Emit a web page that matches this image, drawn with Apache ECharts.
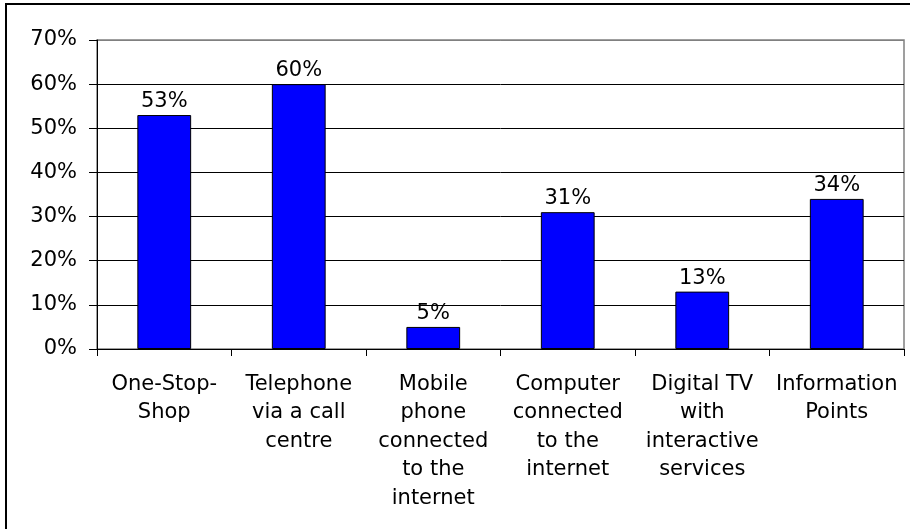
<!DOCTYPE html>
<html>
<head>
<meta charset="utf-8">
<script src="https://cdn.jsdelivr.net/npm/echarts@6/dist/echarts.min.js"></script>
<style>
  html, body { margin: 0; padding: 0; background: #fff; }
  #chart { width: 910px; height: 529px; }
</style>
</head>
<body>
<div id="chart"></div>
<script>
// Access channels and the share of respondents choosing each one
const categories = [
  'One-Stop-\nShop',
  'Telephone\nvia a call\ncentre',
  'Mobile\nphone\nconnected\nto the\ninternet',
  'Computer\nconnected\nto the\ninternet',
  'Digital TV\nwith\ninteractive\nservices',
  'Information\nPoints'
];
const shares = [53, 60, 5, 31, 13, 34];
const yTicks = { min: 0, max: 70, step: 10 };

const FONT = 'DejaVu Sans';
const FS = 21;

const chart = echarts.init(document.getElementById('chart'), null, { renderer: 'canvas' });

// gridlines are black, the top one coincides with the grey plot-area frame
const nLines = (yTicks.max - yTicks.min) / yTicks.step + 1;
const splitColors = [];
for (let i = 0; i < nLines; i++) splitColors.push(i === nLines - 1 ? '#808080' : '#000000');

chart.setOption({
  animation: false,
  backgroundColor: '#ffffff',
  textStyle: { fontFamily: FONT, color: '#000' },
  graphic: [{
    type: 'rect',
    shape: { x: 6, y: 4, width: 1000, height: 1000 },
    style: { fill: 'none', stroke: '#000', lineWidth: 2 },
    silent: true,
    z: 100
  }],
  grid: {
    left: 97, right: 6, top: 40, bottom: 180,
    show: true, borderColor: '#808080', borderWidth: 1.5, backgroundColor: '#fff'
  },
  xAxis: {
    type: 'category',
    data: categories,
    axisLine: { lineStyle: { color: '#000', width: 1 } },
    axisTick: { show: true, length: 7, lineStyle: { color: '#000' } },
    axisLabel: {
      interval: 0, margin: 21, color: '#000',
      fontFamily: FONT, fontSize: FS, lineHeight: 28.5, align: 'center'
    }
  },
  yAxis: {
    type: 'value',
    min: yTicks.min, max: yTicks.max, interval: yTicks.step,
    axisLine: { show: true, lineStyle: { color: '#000', width: 1 } },
    axisTick: { show: true, length: 8, lineStyle: { color: '#000' } },
    axisLabel: { formatter: '{value}%', margin: 20, color: '#000', fontFamily: FONT, fontSize: FS },
    splitLine: { show: true, lineStyle: { color: splitColors, width: 1 } }
  },
  series: [{
    type: 'bar',
    data: shares,
    barCategoryGap: '60%',
    itemStyle: { color: '#0000ff', borderColor: '#000', borderWidth: 1 },
    label: {
      show: true, position: 'top', distance: 3,
      formatter: '{c}%', color: '#000', fontFamily: FONT, fontSize: FS
    }
  }]
});
</script>
</body>
</html>
